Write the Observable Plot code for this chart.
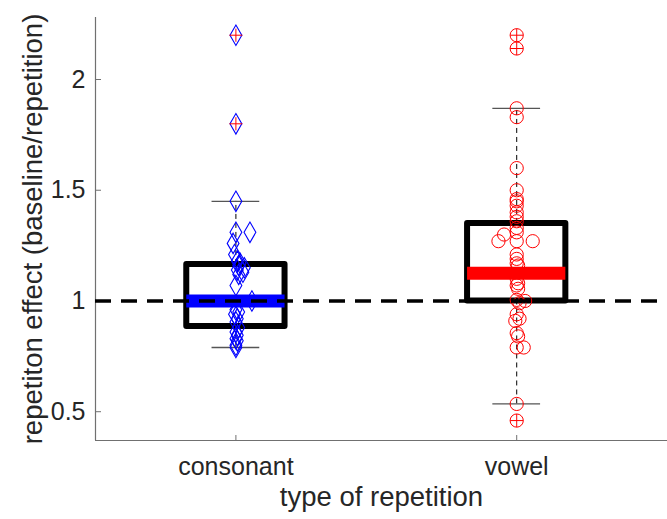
<!DOCTYPE html>
<html><head><meta charset="utf-8">
<script src="https://cdn.jsdelivr.net/npm/d3@7"></script>
<script src="https://cdn.jsdelivr.net/npm/@observablehq/plot@0.6"></script>
<style>
body{margin:0;background:#fff}
svg{font-family:"Liberation Sans",Arial,Helvetica,sans-serif}
</style>
</head><body><div id="chart"></div>
<script>
// ---- data ----
const categories = ["consonant", "vowel"];
const consonantValues = [2.20, 1.80, 1.45, 1.31, 1.31, 1.26, 1.21, 1.18, 1.17, 1.16, 1.15, 1.14, 1.13, 1.12, 1.07, 1.00, 0.96, 0.95, 0.94, 0.92, 0.905, 0.88, 0.86, 0.845, 0.83, 0.82, 0.80, 0.79];
const consonantJitter = [0, 0, 0, 0, 0.05, -0.01, -0.005, 0.005, 0.015, 0.01, 0.03, 0.005, 0.025, 0.01, 0, 0.057, 0, 0.01, -0.005, 0.005, 0, 0.01, 0, 0.005, 0, 0.005, 0, 0];
const vowelValues = [2.20, 2.14, 1.87, 1.83, 1.60, 1.50, 1.46, 1.45, 1.43, 1.40, 1.38, 1.36, 1.33, 1.31, 1.30, 1.27, 1.27, 1.27, 1.21, 1.19, 1.17, 1.16, 1.10, 1.08, 1.07, 1.055, 1.005, 1.00, 0.99, 0.94, 0.92, 0.91, 0.855, 0.84, 0.79, 0.79, 0.535, 0.46];
const vowelJitter = [0, 0, 0, 0, 0, 0, 0, 0, 0, 0, 0, 0, 0, 0, -0.045, -0.065, 0, 0.057, 0, 0, 0, 0.005, 0, 0.005, 0, 0.005, 0, 0.03, 0.01, 0, 0.01, -0.005, 0, 0.005, 0, 0.025, 0, 0];
const boxQ1 = [0.885, 1.0];
const boxMedian = [1.0, 1.125];
const boxQ3 = [1.165, 1.35];
const whiskerLow = [0.79, 0.535];
const whiskerHigh = [1.45, 1.87];
const groupColors = ["#0000ff", "#ff0000"];
const yTicks = [0.5, 1, 1.5, 2];
const xDomain = [0.5, 2.537];
const yDomain = [0.37, 2.28];
const referenceLevel = 1;

// ---- derived tables ----
const boxes = categories.map((c, i) => ({
  cat: c, pos: i + 1, q1: boxQ1[i], med: boxMedian[i], q3: boxQ3[i],
  lo: whiskerLow[i], hi: whiskerHigh[i], color: groupColors[i]
}));
const cPts = consonantValues.map((v, j) => ({g: 0, pos: 1 + consonantJitter[j], v}));
const vPts = vowelValues.map((v, j) => ({g: 1, pos: 2 + vowelJitter[j], v}));
const outliers = [...cPts, ...vPts].filter(p => p.v > whiskerHigh[p.g] || p.v < whiskerLow[p.g]);

const BW = 0.175, CW = 0.085;
const axisColor = "#707070", textColor = "#262626";

const chart = Plot.plot({
  width: 667, height: 519,
  marginLeft: 95, marginRight: 0, marginTop: 17, marginBottom: 79,
  style: {fontSize: "25px", fontFamily: '"Liberation Sans", Arial, sans-serif', color: textColor},
  x: {domain: xDomain},
  y: {domain: yDomain},
  marks: [
    // axes
    Plot.ruleX([xDomain[0]], {stroke: axisColor, strokeWidth: 1.2}),
    Plot.ruleY([yDomain[0]], {stroke: axisColor, strokeWidth: 1.2}),
    Plot.axisY({ticks: yTicks, tickSize: -6, tickPadding: 16, label: null, stroke: axisColor, fill: textColor, tickFormat: d => String(d)}),
    Plot.axisX({ticks: [1, 2], tickSize: -5, tickPadding: 22, label: null, stroke: axisColor, fill: textColor, tickFormat: d => categories[d - 1]}),
    // whiskers
    Plot.ruleX(boxes, {x: "pos", y1: "q3", y2: "hi", stroke: "#000", strokeWidth: 1, strokeDasharray: "5,4"}),
    Plot.ruleX(boxes, {x: "pos", y1: "lo", y2: "q1", stroke: "#000", strokeWidth: 1, strokeDasharray: "5,4"}),
    Plot.ruleY(boxes, {y: "hi", x1: d => d.pos - CW, x2: d => d.pos + CW, stroke: "#555", strokeWidth: 1.3}),
    Plot.ruleY(boxes, {y: "lo", x1: d => d.pos - CW, x2: d => d.pos + CW, stroke: "#555", strokeWidth: 1.3}),
    // boxes
    Plot.rect(boxes, {x1: d => d.pos - BW, x2: d => d.pos + BW, y1: "q1", y2: "q3", fill: "none", stroke: "#000", strokeWidth: 6, strokeLinejoin: "round"}),
    Plot.ruleY(boxes, {y: "med", x1: d => d.pos - BW, x2: d => d.pos + BW, stroke: "color", strokeWidth: 13}),
    // points
    Plot.dot(cPts, {x: "pos", y: "v", symbol: "diamond", r: 6.2, fill: "none", stroke: groupColors[0], strokeWidth: 1.1}),
    Plot.dot(vPts, {x: "pos", y: "v", symbol: "circle", r: 6.6, fill: "none", stroke: groupColors[1], strokeWidth: 1}),
    Plot.dot(outliers, {x: "pos", y: "v", symbol: "plus", r: 4.3, stroke: "#ff0000", strokeWidth: 1}),
    // reference line
    Plot.ruleY([referenceLevel], {stroke: "#000", strokeWidth: 3.5, strokeDasharray: "16,10"}),
    // axis titles
    Plot.text(["repetiton effect (baseline/repetition)"], {frameAnchor: "left", dx: -62, rotate: -90, textAnchor: "middle", lineAnchor: "middle", fontSize: 27.5, fill: textColor}),
    Plot.text(["type of repetition"], {frameAnchor: "bottom", dy: 57, textAnchor: "middle", lineAnchor: "middle", fontSize: 27.5, fill: textColor})
  ]
});
document.getElementById("chart").appendChild(chart);
</script>
</body></html>
